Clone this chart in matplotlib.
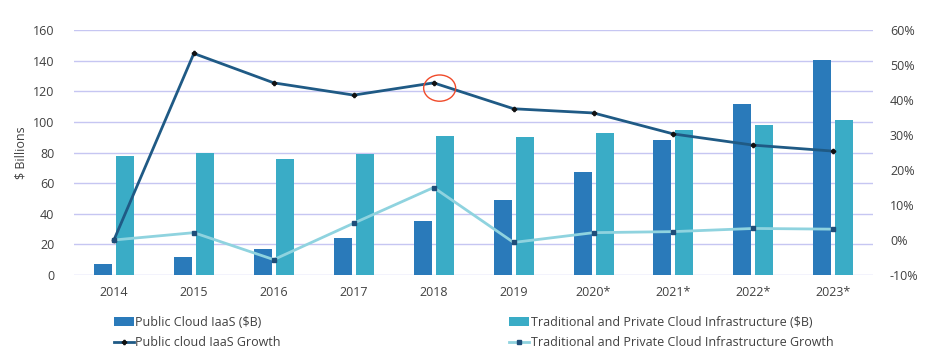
import matplotlib.pyplot as plt
import numpy as np
from matplotlib.patches import Ellipse

plt.rcParams['font.family'] = ['Open Sans', 'DejaVu Sans']

# data
years = ["2014", "2015", "2016", "2017", "2018", "2019", "2020*", "2021*", "2022*", "2023*"]
public_iaas = [7.5, 12, 17, 24, 35.5, 49, 67, 88, 111.5, 140.5]
traditional = [78, 79.7, 75.5, 79, 90.8, 90.3, 92.5, 94.7, 98, 101]
public_growth = [0, 53.3, 44.9, 41.4, 44.9, 37.5, 36.3, 30.3, 27.1, 25.4]
trad_growth = [0, 2.1, -5.6, 4.8, 15.0, -0.7, 2.1, 2.4, 3.3, 3.1]

c_pub = "#2a7aba"
c_trad = "#3aacc6"
c_line1 = "#1f5a85"
c_line2 = "#8fd3df"
c_grid = "#c6c6f2"
c_text = "#404040"

fig = plt.figure(figsize=(9.36, 3.56), dpi=100)
ax = fig.add_axes([0.079, 0.2275, 0.854, 0.6882])
ax2 = ax.twinx()

x = np.arange(len(years))
w = 0.225
b1 = ax.bar(x - 0.1375, public_iaas, w, color=c_pub, zorder=2)
b2 = ax.bar(x + 0.1375, traditional, w, color=c_trad, zorder=2)

ax.set_ylim(0, 160)
ax.set_yticks(range(0, 161, 20))
ax.set_xlim(-0.5, 9.5)
ax.set_xticks(x)
ax.set_xticklabels(years)
ax.yaxis.grid(True, color=c_grid, linewidth=1)
ax.set_axisbelow(True)
ax.set_ylabel("$ Billions", color=c_text, fontsize=9, labelpad=4)

l1, = ax2.plot(x, public_growth, color=c_line1, linewidth=2, marker="P",
               markersize=3, markerfacecolor="#111111", markeredgecolor="#111111", zorder=3)
l2, = ax2.plot(x, trad_growth, color=c_line2, linewidth=2, marker="s",
               markersize=3, markerfacecolor="#1f4e79", markeredgecolor="#1f4e79", zorder=3)
ax2.set_ylim(-10, 60)
ax2.set_yticks(range(-10, 61, 10))
ax2.set_yticklabels([f"{v}%" for v in range(-10, 61, 10)])

for a in (ax, ax2):
    for s in a.spines.values():
        s.set_visible(False)
    a.tick_params(length=0, labelsize=9, colors=c_text)
ax.tick_params(axis="x", pad=8)
ax.tick_params(axis="y", pad=14)
ax2.tick_params(axis="y", pad=12)

# red circle around 2018
ax2.add_patch(Ellipse((4.075, 43.4), 0.4, 7.5, fill=False, edgecolor="#f04a2a", linewidth=1, zorder=4))

fig.legend([b1, l1, b2, l2],
           ["Public Cloud IaaS ($B)", "Public cloud IaaS Growth",
            "Traditional and Private Cloud Infrastructure ($B)",
            "Traditional and Private Cloud Infrastructure Growth"],
           ncol=2, loc="upper left", bbox_to_anchor=(0.115, 0.13), frameon=False,
           fontsize=9, labelcolor=c_text, handlelength=1.6, handletextpad=0.1,
           columnspacing=18.3, borderpad=0, labelspacing=0.6)

fig.savefig("out.png", dpi=100)
